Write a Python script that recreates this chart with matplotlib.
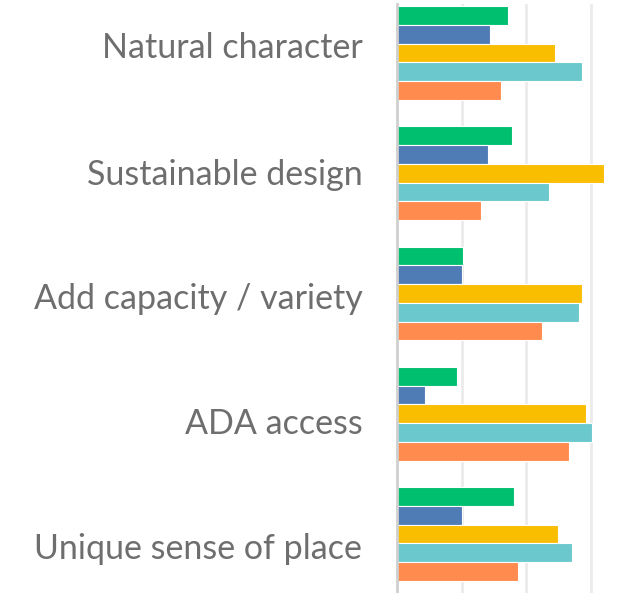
import matplotlib

matplotlib.use("Agg")
import matplotlib.pyplot as plt
import numpy as np

# ── Data (in gridline units) ──
categories = [
    "Natural character",
    "Sustainable design",
    "Add capacity / variety",
    "ADA access",
    "Unique sense of place",
]
series_green = [1.72, 1.78, 1.02, 0.93, 1.81]
series_blue = [1.44, 1.41, 1.01, 0.43, 1.01]
series_yellow = [2.45, 3.21, 2.87, 2.93, 2.50]
series_teal = [2.87, 2.36, 2.82, 3.02, 2.71]
series_orange = [1.61, 1.30, 2.25, 2.67, 1.88]

series = [series_green, series_blue, series_yellow, series_teal, series_orange]
colors = ["#00BF6F", "#507CB6", "#F9BE00", "#6BC8CD", "#FF8B4F"]

# labels sit on a slightly wider pitch than the bar groups in the original
label_pos = [-0.067, 0.99, 2.02, 3.06, 4.10]

fig = plt.figure(figsize=(6.43, 5.93), dpi=100)
ax = fig.add_axes([0.6174, 0.0, 0.3826, 0.9933])

y = np.arange(len(categories))
h = 0.156
for j, (vals, c) in enumerate(zip(series, colors)):
    ax.barh(y + (j - 2) * h, vals, height=h, color=c,
            edgecolor="white", linewidth=0.8, zorder=3)

ax.set_xlim(0, 3.81)
ax.set_ylim(4.49, -0.407)
ax.set_xticks([1, 2, 3])
ax.xaxis.grid(True, color="#ebebeb", linewidth=2, zorder=0)
ax.tick_params(axis="x", length=0, labelbottom=False)

ax.set_yticks(label_pos)
ax.set_yticklabels(categories, family=["Lato", "DejaVu Sans"],
                   fontsize=24.5, color="#6e6e6e")
ax.tick_params(axis="y", length=0, pad=25)

for side in ["top", "right", "bottom"]:
    ax.spines[side].set_visible(False)
ax.spines["left"].set_color("#cfcfcf")
ax.spines["left"].set_linewidth(2)
ax.spines["left"].set_zorder(4)

fig.savefig("out.png", dpi=100)
